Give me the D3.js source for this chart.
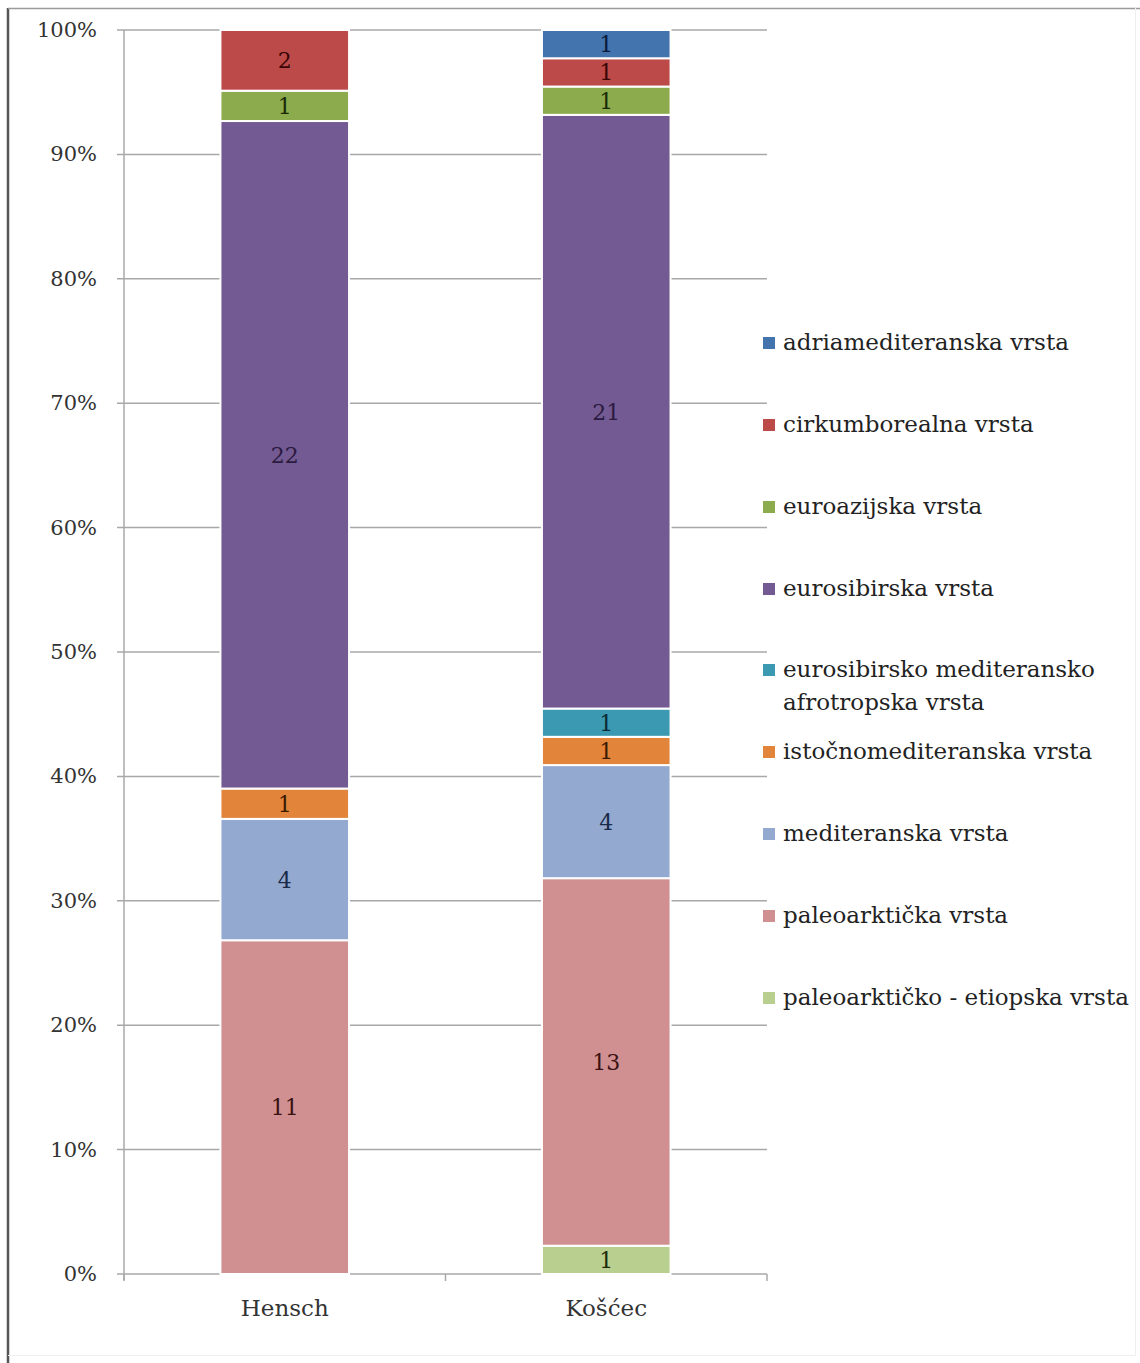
<!DOCTYPE html>
<html><head><meta charset="utf-8">
<script src="https://cdn.jsdelivr.net/npm/d3@7"></script>
<style>body{margin:0;background:#fff}svg{display:block}</style>
</head><body>
<svg id="c" width="1140" height="1363"></svg>
<script>
const categories = ["Hensch", "Košćec"];
const seriesNames = [
  "paleoarktičko - etiopska vrsta",
  "paleoarktička vrsta",
  "mediteranska vrsta",
  "istočnomediteranska vrsta",
  "eurosibirsko mediteransko afrotropska vrsta",
  "eurosibirska vrsta",
  "euroazijska vrsta",
  "cirkumborealna vrsta",
  "adriamediteranska vrsta"
];
const henschValues = [0, 11, 4, 1, 0, 22, 1, 2, 0];
const koscecValues = [1, 13, 4, 1, 1, 21, 1, 1, 1];
const seriesColors = ["#b9cf8f","#d09091","#93a9d0","#e2853b","#3b99b2","#735a92","#8cab4d","#bb4a48","#4474ae"];
const labelColors = ["#1d2a0a","#3a1212","#1a2a48","#3a1a00","#0a2a33","#2a1a40","#1a2a05","#3a0505","#0a1a3a"];
const legendOrder = [8,7,6,5,4,3,2,1,0];
const yTicks = [0,0.1,0.2,0.3,0.4,0.5,0.6,0.7,0.8,0.9,1];

(function(){
const FONT = "'DejaVu Serif', serif";
const svg = d3.select("#c");
// outer frame
svg.append("line").attr("x1",8).attr("x2",8).attr("y1",8).attr("y2",1363).attr("stroke","#555").attr("stroke-width",2.5);
svg.append("line").attr("x1",8).attr("x2",1140).attr("y1",8.5).attr("y2",8.5).attr("stroke","#9a9a9a").attr("stroke-width",1.5);
svg.append("line").attr("x1",8).attr("x2",1136).attr("y1",1355.5).attr("y2",1355.5).attr("stroke","#eee").attr("stroke-width",1);
svg.append("line").attr("x1",1135.5).attr("x2",1135.5).attr("y1",8).attr("y2",1356).attr("stroke","#eee").attr("stroke-width",1);

const mLeft = 124, mRight = 767, mTop = 30, mBottom = 1274;
const x = d3.scaleBand().domain(categories).range([mLeft, mRight]).paddingInner(0.6).paddingOuter(0.3);
const y = d3.scaleLinear().domain([0,1]).range([mBottom, mTop]);

// gridlines
svg.append("g").selectAll("line").data(yTicks).join("line")
  .attr("x1", mLeft - 7).attr("x2", mRight)
  .attr("y1", d => y(d)).attr("y2", d => y(d))
  .attr("stroke", "#a8a8a8").attr("stroke-width", 1.5);
// y axis line
svg.append("line").attr("x1", mLeft).attr("x2", mLeft).attr("y1", mTop).attr("y2", mBottom + 6).attr("stroke", "#a8a8a8").attr("stroke-width", 1.5);
// category ticks
svg.append("g").selectAll("line").data([mLeft, mLeft + (mRight-mLeft)/2, mRight]).join("line")
  .attr("x1", d => d).attr("x2", d => d).attr("y1", mBottom).attr("y2", mBottom + 7)
  .attr("stroke", "#a8a8a8").attr("stroke-width", 1.5);

// y tick labels
svg.append("g").selectAll("text").data(yTicks).join("text")
  .attr("x", 97).attr("y", d => y(d) + 7)
  .attr("text-anchor", "end")
  .attr("font-family", FONT).attr("font-size", 21).attr("fill", "#333")
  .text(d => d3.format(".0%")(d));

// category labels
svg.append("g").selectAll("text").data(categories).join("text")
  .attr("x", d => x(d) + x.bandwidth()/2).attr("y", 1316)
  .attr("text-anchor", "middle")
  .attr("font-family", FONT).attr("font-size", 23).attr("fill", "#333")
  .text(d => d);

// stacked bars
const table = categories.map((c, i) => {
  const vals = i === 0 ? henschValues : koscecValues;
  const o = {cat: c, total: d3.sum(vals)};
  seriesNames.forEach((s, j) => o[s] = vals[j] / o.total);
  o.raw = vals;
  return o;
});
const stacked = d3.stack().keys(seriesNames)(table);

stacked.forEach((layer, j) => {
  const g = svg.append("g");
  layer.forEach((d, i) => {
    const v = table[i].raw[j];
    if (!v) return;
    const y0 = y(d[1]), y1 = y(d[0]);
    g.append("rect")
      .attr("x", x(table[i].cat)).attr("width", x.bandwidth())
      .attr("y", y0).attr("height", y1 - y0)
      .attr("fill", seriesColors[j])
      .attr("stroke", "#fff").attr("stroke-width", 2);
    g.append("text")
      .attr("x", x(table[i].cat) + x.bandwidth()/2)
      .attr("y", (y0 + y1)/2 + 8)
      .attr("text-anchor", "middle")
      .attr("font-family", FONT).attr("font-size", 22)
      .attr("fill", labelColors[j])
      .text(v);
  });
});

// legend
const legendY = [343, 425, 507, 589, 670, 752, 834, 916, 998];
const lg = svg.append("g");
legendOrder.forEach((j, k) => {
  const cy = legendY[k];
  lg.append("rect").attr("x", 763).attr("y", cy - 6).attr("width", 12).attr("height", 12).attr("fill", seriesColors[j]);
  const name = seriesNames[j];
  const t = lg.append("text").attr("x", 783).attr("y", cy + 7)
    .attr("font-family", FONT).attr("font-size", 23).attr("fill", "#222");
  if (name === "eurosibirsko mediteransko afrotropska vrsta") {
    t.append("tspan").attr("x", 783).text("eurosibirsko mediteransko");
    t.append("tspan").attr("x", 783).attr("dy", 33).text("afrotropska vrsta");
  } else {
    t.text(name);
  }
});
})();
</script>
</body></html>
